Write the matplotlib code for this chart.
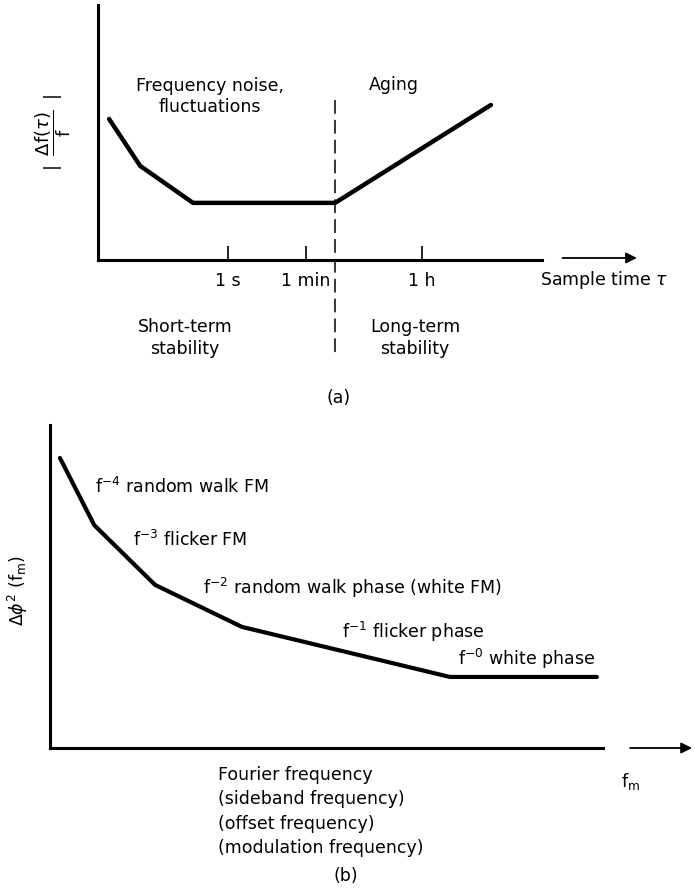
import matplotlib
matplotlib.use("Agg")
import matplotlib.pyplot as plt

plt.rcParams['font.family'] = ['DejaVu Sans']
plt.rcParams['mathtext.fontset'] = 'dejavusans'

# ==== dados (unidades arbitrárias, esquema) ==================================
# (a) estabilidade x tempo de amostragem
tau_nos = [0.25, 0.95, 2.14, 5.34, 8.85]
estab_nos = [5.53, 3.69, 2.24, 2.24, 6.08]
tau_ticks = [2.93, 4.68, 7.30]
tau_labels = ['1 s', '1 min', '1 h']
tau_limite = 5.34  # fronteira curto / longo prazo

# (b) densidade espectral de fase x frequência de Fourier
fm_nos = [0.18, 0.80, 1.90, 3.47, 7.23, 9.89]
fase_nos = [8.98, 6.90, 5.05, 3.75, 2.20, 2.20]
rotulos_ruido = [r'f$^{-4}$ random walk FM',
                 r'f$^{-3}$ flicker FM',
                 r'f$^{-2}$ random walk phase (white FM)',
                 r'f$^{-1}$ flicker phase',
                 r'f$^{-0}$ white phase']
rotulos_x = [0.81, 1.50, 2.77, 5.28, 7.38]
rotulos_y = [8.08, 6.44, 4.95, 3.59, 2.76]
# ============================================================================

W, H = 695, 888
fig = plt.figure(figsize=(W / 100, H / 100), dpi=100)
fs = 12.5


def pos(x0, x1, ytop, ybot):
    return [x0 / W, 1 - ybot / H, (x1 - x0) / W, (ybot - ytop) / H]


def estilo(ax):
    for s in ['top', 'right']:
        ax.spines[s].set_visible(False)
    for s in ['left', 'bottom']:
        ax.spines[s].set_linewidth(2.2)
    ax.set_xlim(0, 10)
    ax.set_ylim(0, 10)
    ax.set_yticks([])


# ---- (a) ----
ax1 = fig.add_axes(pos(98, 542, 5, 260))
estilo(ax1)
ax1.plot(tau_nos, estab_nos, color='k', lw=3.2, solid_capstyle='round',
         solid_joinstyle='round')
ax1.set_xticks(tau_ticks)
ax1.set_xticklabels(tau_labels, fontsize=fs)
ax1.tick_params(axis='x', direction='in', length=10, width=1.2, pad=9)
ax1.plot([tau_limite, tau_limite], [6.27, -3.84], color='k', lw=1.1,
         dashes=(9, 4), clip_on=False)

ax1.text(2.52, 6.41, 'Frequency noise,\nfluctuations', ha='center', va='center',
         fontsize=fs, linespacing=1.25)
ax1.text(6.67, 6.86, 'Aging', ha='center', va='center', fontsize=fs)
ax1.text(1.96, -3.06, 'Short-term\nstability', ha='center', va='center',
         fontsize=fs, linespacing=1.25, clip_on=False)
ax1.text(7.14, -3.06, 'Long-term\nstability', ha='center', va='center',
         fontsize=fs, linespacing=1.25, clip_on=False)
ax1.text(5.41, -5.41, '(a)', ha='center', va='center', fontsize=fs)
ax1.text(9.95, -0.78, r'Sample time $\tau$', ha='left', va='center', fontsize=fs)
ax1.annotate('', xy=(12.2, 0.08), xytext=(10.4, 0.08), xycoords='data',
             arrowprops=dict(arrowstyle='-|>', lw=1.3, color='k',
                             mutation_scale=16), annotation_clip=False)
ax1.text(-1.0, 5.0, r'$|\;\;\dfrac{\Delta \mathrm{f}(\tau)}{\mathrm{f}}\;\;|$',
         rotation=90, ha='center', va='center', fontsize=13)

# ---- (b) ----
ax2 = fig.add_axes(pos(50, 603, 425, 748))
estilo(ax2)
ax2.set_xticks([])
ax2.plot(fm_nos, fase_nos, color='k', lw=3.0, solid_capstyle='round',
         solid_joinstyle='round', clip_on=False)
for x, y, t in zip(rotulos_x, rotulos_y, rotulos_ruido):
    ax2.text(x, y, t, ha='left', va='center', fontsize=fs)

ax2.text(3.04, -0.56,
         'Fourier frequency\n(sideband frequency)\n(offset frequency)\n(modulation frequency)',
         ha='left', va='top', fontsize=fs, linespacing=1.45)
ax2.text(10.49, -1.05, r'f$_{\rm m}$', ha='center', va='center', fontsize=fs)
ax2.annotate('', xy=(11.66, 0), xytext=(10.44, 0), xycoords='data',
             arrowprops=dict(arrowstyle='-|>', lw=1.3, color='k',
                             mutation_scale=16), annotation_clip=False)
ax2.text(-0.58, 4.89, r'$\Delta\phi^2$ (f$_{\rm m}$)', rotation=90,
         ha='center', va='center', fontsize=fs)
ax2.text(5.35, -3.95, '(b)', ha='center', va='center', fontsize=fs)

fig.savefig('out.png', dpi=100)
